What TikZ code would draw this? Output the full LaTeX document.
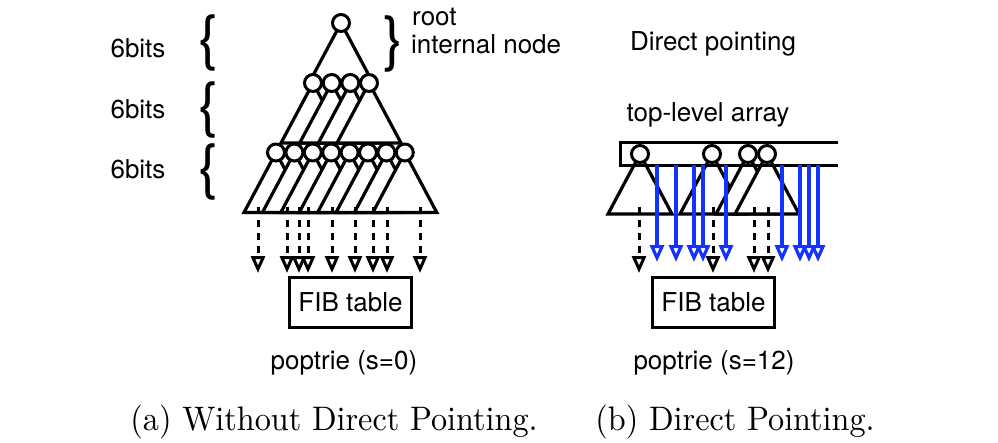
\documentclass[tikz,border=0pt]{standalone}
\usepackage{fontspec}
\newfontfamily\hv{TeX Gyre Heros}
\usetikzlibrary{arrows.meta}
\definecolor{ablue}{RGB}{20,50,255}
\newcommand\hvtext{\hv\fontsize{26}{30}\selectfont}
\newcommand\trii[1]{\path[tri] (#1) -- ++(-32,60) -- ++(64,0) -- cycle;}
\tikzset{
 nd/.style={circle, draw, fill=white, minimum size=17pt, inner sep=0pt, line width=3pt},
 tri/.style={draw, fill=white, line width=3.2pt, line join=miter},
 darr/.style={line width=3pt, dash pattern=on 7pt off 6pt, -{Triangle[length=17pt,width=14pt,fill=white]}},
 barr/.style={ablue, line width=3.2pt, -{Triangle[length=17pt,width=14pt,fill=white]}},
 fibbox/.style={draw, line width=3pt, minimum width=122pt, minimum height=50pt, inner sep=0pt, font=\hvtext},
 lbl/.style={font=\hvtext, inner sep=0pt, anchor=base},
 brc/.style={font=\hv\fontsize{60}{60}\selectfont, inner sep=0pt},
 captxt/.style={font=\fontsize{10}{12}\selectfont, xscale=3.22, yscale=3.4, inner sep=0pt, anchor=base},
}
\begin{document}
\begin{tikzpicture}[x=1pt,y=-1pt]
\useasboundingbox (0,0) rectangle (998,442);
% ---------- left: without direct pointing ----------
\coordinate (R) at (341,23);
\foreach \i in {1,...,4} \coordinate (L2-\i) at ({313+18.67*(\i-1)},83);
\foreach \i in {1,...,8} \coordinate (L3-\i) at ({276+18.4*(\i-1)},152.5);
\trii{R}
\foreach \i in {1,...,4} {\trii{L2-\i}}
\foreach \i in {1,...,8} {\trii{L3-\i}}
\node[nd] (nR) at (R) {};
\foreach \i in {1,...,4} \node[nd] (n2-\i) at (L2-\i) {};
\foreach \i in {1,...,8} \node[nd] (n3-\i) at (L3-\i) {};
\foreach \x [count=\k] in {258,287,299,308,332,355,373,387,420} {
  \coordinate (ls\k) at (\x,207);
  \coordinate (le\k) at (\x,273);
  \draw[darr] (ls\k) -- (le\k);
}
\node[fibbox] (fibA) at (350.5,302) {FIB table};
% braces and labels
\node[brc] (br1) at (209,42.5) {\{};
\node[brc] (br2) at (209,110) {\{};
\node[brc] (br3) at (209,171.5) {\{};
\node[brc] (br4) at (394,43.5) {\}};
\node[lbl] (b1) at (138,57) {6bits};
\node[lbl] (b2) at (138,118) {6bits};
\node[lbl] (b3) at (138,178) {6bits};
\node[lbl, anchor=base west] (root) at (412,25) {root};
\node[lbl, anchor=base west] (inode) at (411,53) {internal node};
\node[lbl] (p0) at (344,369) {poptrie (s=0)};
\node[captxt] (ca) at (334,430) {(a) Without Direct Pointing.};
% ---------- right: direct pointing ----------
\coordinate (A1) at (640,154);
\coordinate (A2) at (712,154);
\coordinate (A3) at (748,154);
\coordinate (A4) at (767,154);
\foreach \i in {1,...,4} {\trii{A\i}}
\coordinate (arrTR) at (838,142);
\coordinate (arrBR) at (838,165);
\draw[line width=3pt, line join=miter] (arrTR) -| (620,165) -- (arrBR);
\foreach \i in {1,...,4} \node[nd] (a\i) at (A\i) {};
\foreach \x [count=\k] in {657,676,694,703,726,782,800,809,818} {
  \coordinate (bs\k) at (\x,165);
  \coordinate (be\k) at (\x,262);
  \draw[barr] (bs\k) -- (be\k);
}
\foreach \x [count=\k] in {639,713,754,768} {
  \coordinate (rs\k) at (\x,207);
  \coordinate (re\k) at (\x,273);
  \draw[darr] (rs\k) -- (re\k);
}
\node[fibbox] (fibB) at (713.5,302) {FIB table};
\node[lbl] (dp) at (713,50) {Direct pointing};
\node[lbl] (tla) at (708,121) {top-level array};
\node[lbl] (p12) at (714,369) {poptrie (s=12)};
\node[captxt] (cb) at (735,430) {(b) Direct Pointing.};
\end{tikzpicture}
\end{document}
